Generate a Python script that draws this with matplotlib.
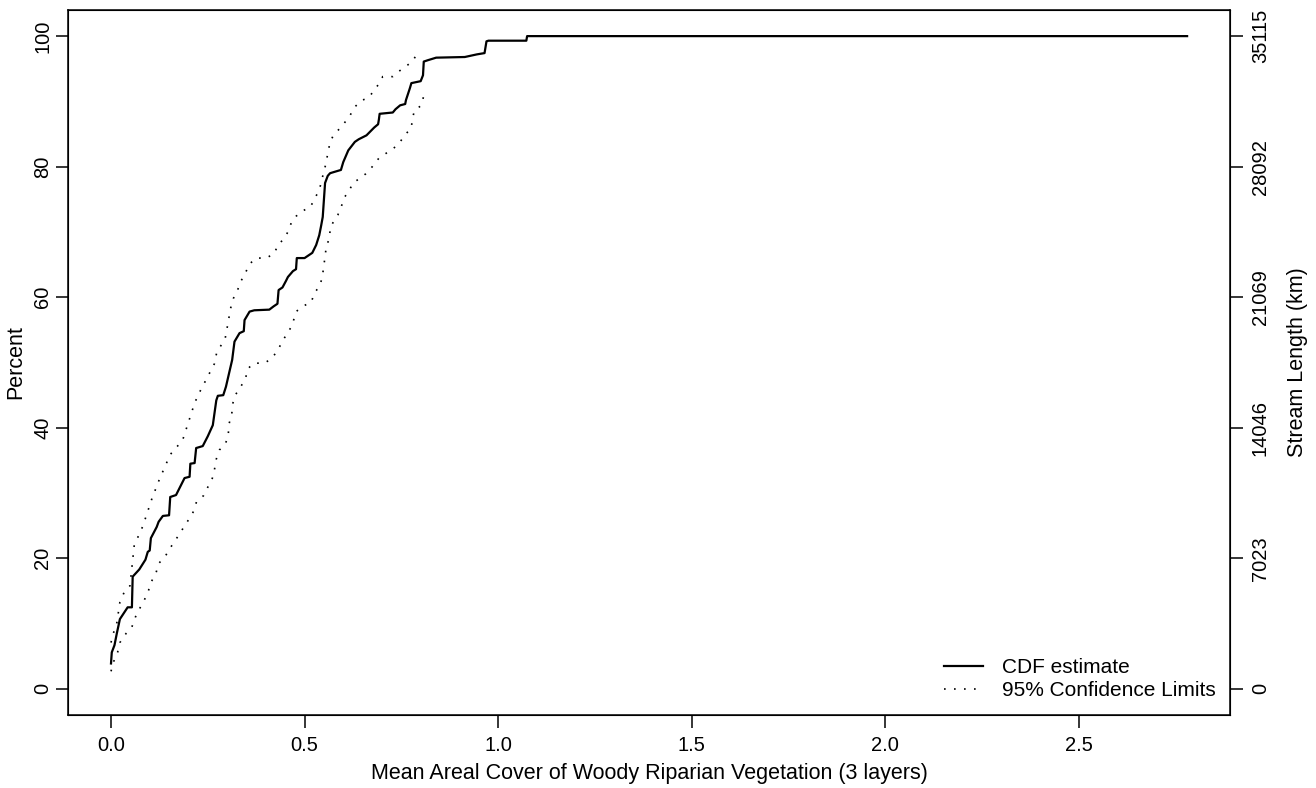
import matplotlib.pyplot as plt

plt.rcParams['font.family'] = ['Liberation Sans', 'DejaVu Sans']

# CDF estimate (x = mean areal cover, y = percent)
cdf_x = [0.0, 0.002, 0.009, 0.015, 0.023, 0.043, 0.054, 0.056, 0.073, 0.089, 0.095,
         0.100, 0.103, 0.118, 0.123, 0.134, 0.150, 0.153, 0.168, 0.190, 0.203, 0.205,
         0.216, 0.220, 0.237, 0.250, 0.263, 0.272, 0.276, 0.290, 0.297, 0.304, 0.313,
         0.319, 0.332, 0.343, 0.345, 0.358, 0.370, 0.409, 0.420, 0.430, 0.433, 0.443,
         0.452, 0.457, 0.470, 0.478, 0.480, 0.500, 0.520, 0.530, 0.538, 0.543, 0.547,
         0.553, 0.560, 0.566, 0.577, 0.594, 0.600, 0.613, 0.630, 0.640, 0.660, 0.670,
         0.680, 0.690, 0.692, 0.694, 0.728, 0.735, 0.747, 0.760, 0.762, 0.772, 0.776,
         0.800, 0.806, 0.808, 0.818, 0.840, 0.914, 0.945, 0.965, 0.970, 0.975, 1.000,
         1.073, 1.075, 2.78]
cdf_y = [3.9, 5.6, 6.7, 8.5, 10.7, 12.5, 12.5, 17.2, 18.3, 19.8, 21.0,
         21.2, 23.1, 24.8, 25.6, 26.5, 26.6, 29.4, 29.7, 32.3, 32.5, 34.5,
         34.6, 36.9, 37.2, 38.7, 40.4, 44.2, 44.9, 45.0, 46.3, 48.1, 50.4,
         53.2, 54.5, 54.8, 56.5, 57.8, 58.0, 58.1, 58.6, 59.0, 61.1, 61.5,
         62.5, 63.1, 64.0, 64.3, 66.0, 66.0, 66.8, 68.0, 69.5, 71.0, 72.3,
         77.5, 78.6, 79.0, 79.2, 79.5, 80.7, 82.5, 83.8, 84.2, 84.8, 85.4,
         86.0, 86.5, 87.2, 88.1, 88.3, 88.8, 89.4, 89.6, 90.2, 92.0, 92.8,
         93.1, 94.0, 96.1, 96.3, 96.7, 96.8, 97.2, 97.4, 99.2, 99.3, 99.3,
         99.3, 100.0, 100.0]

# upper 95% confidence limit
upper_x = [0.0, 0.006, 0.015, 0.023, 0.034, 0.049, 0.060, 0.082, 0.106, 0.125, 0.153,
           0.185, 0.215, 0.224, 0.267, 0.273, 0.295, 0.304, 0.308, 0.316, 0.327, 0.336,
           0.347, 0.358, 0.375, 0.401, 0.422, 0.431, 0.446, 0.457, 0.467, 0.478, 0.494,
           0.515, 0.526, 0.537, 0.543, 0.549, 0.556, 0.560, 0.566, 0.575, 0.592, 0.603,
           0.618, 0.629, 0.646, 0.666, 0.691, 0.702, 0.728, 0.746, 0.767, 0.780, 0.793]
upper_y = [7.1, 8.5, 10.1, 13.3, 14.8, 15.8, 22.0, 24.9, 29.2, 32.1, 35.9,
           38.1, 43.6, 44.9, 49.8, 51.5, 53.7, 56.6, 58.1, 59.8, 61.1, 62.5,
           63.7, 65.1, 66.0, 66.0, 66.7, 68.0, 68.9, 70.0, 71.6, 72.4, 73.2,
           73.8, 75.1, 76.3, 77.5, 79.1, 80.6, 82.1, 83.7, 84.9, 85.9, 86.7,
           87.9, 89.1, 90.1, 90.6, 92.6, 93.8, 93.8, 94.7, 95.6, 96.2, 97.6]

# lower 95% confidence limit
lower_x = [0.0, 0.007, 0.017, 0.023, 0.039, 0.054, 0.063, 0.073, 0.086, 0.097, 0.103,
           0.116, 0.123, 0.140, 0.151, 0.164, 0.178, 0.192, 0.204, 0.215, 0.221, 0.239,
           0.250, 0.261, 0.267, 0.272, 0.280, 0.295, 0.303, 0.304, 0.312, 0.314, 0.321,
           0.336, 0.347, 0.353, 0.368, 0.396, 0.415, 0.431, 0.444, 0.457, 0.468, 0.478,
           0.498, 0.517, 0.526, 0.539, 0.546, 0.549, 0.553, 0.556, 0.565, 0.566, 0.575,
           0.586, 0.595, 0.603, 0.616, 0.625, 0.640, 0.658, 0.675, 0.692, 0.704, 0.728,
           0.746, 0.758, 0.776, 0.778, 0.784, 0.802, 0.808]
lower_y = [2.7, 4.2, 5.6, 7.1, 8.5, 9.5, 11.0, 12.2, 13.6, 15.1, 16.3,
           17.7, 19.2, 20.3, 21.4, 22.6, 23.8, 25.2, 26.2, 27.4, 28.7, 29.6,
           30.9, 32.1, 33.5, 35.2, 36.6, 37.5, 38.7, 40.4, 42.1, 43.6, 45.0,
           46.4, 47.4, 49.0, 49.9, 49.9, 50.6, 51.9, 53.4, 54.6, 55.7, 57.8,
           58.7, 59.2, 60.7, 61.7, 63.1, 64.5, 66.2, 67.7, 69.2, 70.6, 71.6,
           72.6, 73.9, 75.3, 76.4, 77.5, 78.1, 78.9, 80.0, 81.3, 81.8, 82.7,
           83.7, 84.8, 85.9, 87.2, 88.6, 89.4, 90.9]

pct_ticks = [0, 20, 40, 60, 80, 100]
length_labels = ['0', '7023', '14046', '21069', '28092', '35115']
x_ticks = [0.0, 0.5, 1.0, 1.5, 2.0, 2.5]

fig = plt.figure(figsize=(13.16, 7.88), dpi=100)
ax = fig.add_axes([0.0517, 0.0926, 0.883, 0.8947])

ax.plot(cdf_x, cdf_y, color='black', lw=1.6, label='CDF estimate')
ax.plot(upper_x, upper_y, color='black', lw=1.2, linestyle=(0, (1, 5)),
        label='95% Confidence Limits')
ax.plot(lower_x, lower_y, color='black', lw=1.2, linestyle=(0, (1, 5)))

ax.set_xlim(-0.111, 2.891)
ax.set_ylim(-4, 104)
ax.set_xticks(x_ticks)
ax.set_xticklabels(['0.0', '0.5', '1.0', '1.5', '2.0', '2.5'])
ax.set_yticks(pct_ticks)
ax.set_yticklabels([str(t) for t in pct_ticks], rotation=90, va='center')
ax.tick_params(direction='out', length=9, width=1.1, labelsize=14.5, pad=6)
ax.tick_params(axis='y', pad=2.5)
for s in ax.spines.values():
    s.set_linewidth(1.1)
ax.set_xlabel('Mean Areal Cover of Woody Riparian Vegetation (3 layers)', fontsize=15.5, labelpad=6)
ax.set_ylabel('Percent', fontsize=15.5)
ax.yaxis.set_label_coords(-0.036, 0.5)

ax2 = ax.twinx()
ax2.set_ylim(ax.get_ylim())
ax2.set_yticks(pct_ticks)
ax2.set_yticklabels(length_labels, rotation=90, va='center')
ax2.tick_params(direction='out', length=9, width=1.1, labelsize=14.5, pad=6)
ax2.set_ylabel('Stream Length (km)', fontsize=15.5)
ax2.yaxis.set_label_coords(1.049, 0.5)

leg = ax.legend(loc='lower right', bbox_to_anchor=(1, 0), frameon=False, fontsize=15,
                handlelength=1.85, handletextpad=0.9, labelspacing=0.2,
                borderaxespad=0.35, borderpad=0.35)

fig.savefig('out.png', dpi=100)
